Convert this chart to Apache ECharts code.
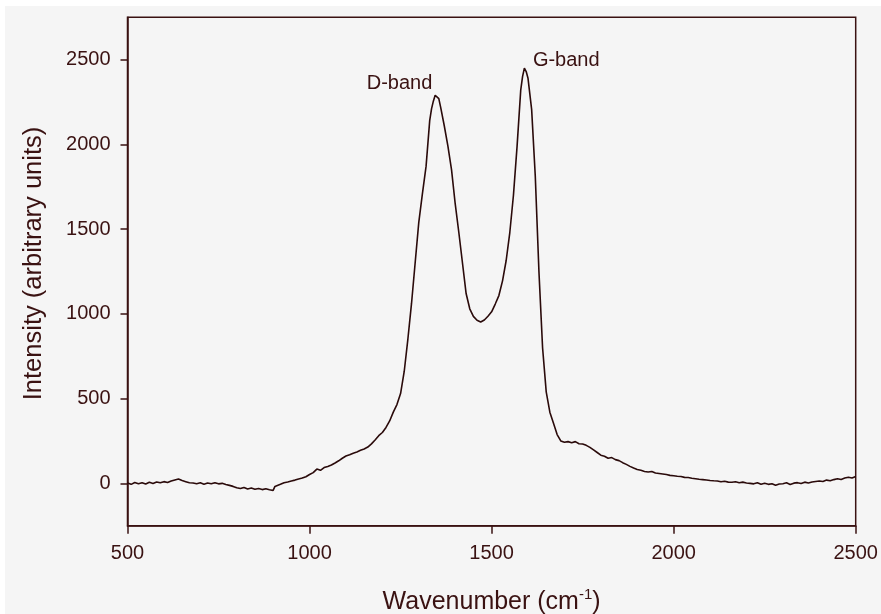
<!DOCTYPE html>
<html><head><meta charset="utf-8">
<script src="https://cdn.jsdelivr.net/npm/echarts@6/dist/echarts.min.js"></script>
<style>html,body{margin:0;padding:0;background:#fff}#c{width:881px;height:614px}</style>
</head><body><div id="c"></div>
<script>
const wavenumber = [500,510,520,530,540,550,560,570,580,590,600,610,620,630,640,650,660,670,680,690,700,710,720,730,740,750,760,770,780,790,800,810,820,830,840,850,860,870,880,890,900,905,910,920,930,940,950,960,970,980,990,1000,1010,1020,1030,1040,1050,1060,1070,1080,1090,1100,1110,1120,1130,1140,1150,1160,1170,1180,1190,1200,1210,1220,1230,1240,1250,1260,1270,1280,1290,1300,1310,1320,1330,1335,1340,1345,1350,1355,1360,1370,1380,1390,1400,1410,1420,1430,1440,1450,1460,1470,1480,1490,1500,1510,1520,1530,1540,1550,1560,1570,1580,1585,1590,1595,1600,1610,1620,1630,1640,1650,1660,1670,1680,1690,1700,1710,1720,1730,1740,1750,1760,1770,1780,1790,1800,1810,1820,1830,1840,1850,1860,1870,1880,1890,1900,1910,1920,1930,1940,1950,1960,1970,1980,1990,2000,2010,2020,2030,2040,2050,2060,2070,2080,2090,2100,2110,2120,2130,2140,2150,2160,2170,2180,2190,2200,2210,2220,2230,2240,2250,2260,2270,2280,2290,2300,2310,2320,2330,2340,2350,2360,2370,2380,2390,2400,2410,2420,2430,2440,2450,2460,2470,2480,2490,2500];
const intensity = [2,-6,5,-2,4,-4,6,-1,8,3,10,5,14,20,26,17,10,3,2,-3,3,-5,2,-2,4,-3,0,-7,-12,-18,-26,-31,-24,-33,-28,-35,-30,-37,-32,-38,-42,-18,-14,-6,3,8,14,19,26,31,39,52,63,84,77,93,100,108,120,133,148,161,169,178,185,195,203,214,233,256,281,300,330,368,420,465,530,660,850,1060,1300,1540,1710,1870,2140,2210,2255,2290,2300,2270,2220,2110,1990,1850,1650,1480,1300,1120,1030,985,962,952,964,986,1012,1058,1108,1195,1315,1480,1700,1990,2320,2400,2450,2430,2390,2205,1811,1250,800,540,420,354,288,250,242,246,240,246,234,232,224,212,197,182,166,160,148,152,140,134,122,112,100,90,82,77,70,67,70,61,58,55,52,47,45,42,40,35,34,30,27,24,22,20,17,15,14,9,12,7,6,9,3,7,2,0,-3,4,-5,0,-6,-2,-11,-4,-2,3,-7,1,4,-1,7,2,8,11,14,11,19,15,22,27,23,31,36,31,40];
const xTicks = [500,1000,1500,2000,2500];
const yTicks = [0,500,1000,1500,2000,2500];
const annotNames = ['D-band','G-band'];
const annotX = [1247,1705];
const annotY = [2362,2494];

const ink = '#3a1212';
const font = 'Liberation Sans, Arial';
const chart = echarts.init(document.getElementById('c'));
chart.setOption({
  animation:false,
  backgroundColor:'transparent',
  graphic:[{type:'rect',z:-10,shape:{x:5,y:6,width:876,height:608},style:{fill:'#f5f5f5'}}],
  grid:{left:127.5,right:25.3,top:17.3,bottom:88.3,outerBoundsMode:'none',containLabel:false,show:true,borderColor:ink,borderWidth:1.5,backgroundColor:'transparent'},
  xAxis:{type:'value',min:500,max:2500,interval:500,
    name:'{a|Wavenumber (cm}{s|-1}{a|)}',nameLocation:'middle',nameGap:62,
    nameTextStyle:{rich:{a:{fontFamily:font,fontSize:25,color:ink,verticalAlign:'bottom'},s:{fontFamily:font,fontSize:15,color:ink,verticalAlign:'top',padding:[0,0,12,0]}}},
    axisLine:{show:true,onZero:false,lineStyle:{color:ink,width:1.5}},
    axisTick:{show:true,inside:false,length:8,lineStyle:{color:ink,width:1.5}},
    axisLabel:{margin:18,fontFamily:font,fontSize:20,color:ink,customValues:xTicks,formatter:v=>String(v)},
    splitLine:{show:false}},
  yAxis:{type:'value',min:-250,max:2750,
    name:'Intensity (arbitrary units)',nameLocation:'middle',nameGap:81,
    nameTextStyle:{fontFamily:font,fontSize:25.5,color:ink,padding:[0,0,0,16]},
    axisLine:{show:true,onZero:false,lineStyle:{color:ink,width:1.5}},
    axisTick:{show:true,inside:false,length:7,lineStyle:{color:ink,width:1.5},customValues:yTicks},
    axisLabel:{margin:17,fontFamily:font,fontSize:20,color:ink,customValues:yTicks,formatter:v=>String(v)},
    splitLine:{show:false}},
  series:[{type:'line',data:wavenumber.map((w,i)=>[w,intensity[i]]),showSymbol:false,symbol:'none',
    lineStyle:{color:'#2a0a0a',width:1.6},
    markPoint:{symbol:'circle',symbolSize:0,
      label:{show:true,position:'inside',fontFamily:font,fontSize:20,color:ink,formatter:p=>p.name},
      data:annotNames.map((n,i)=>({name:n,coord:[annotX[i],annotY[i]]}))}}]
});
</script></body></html>
